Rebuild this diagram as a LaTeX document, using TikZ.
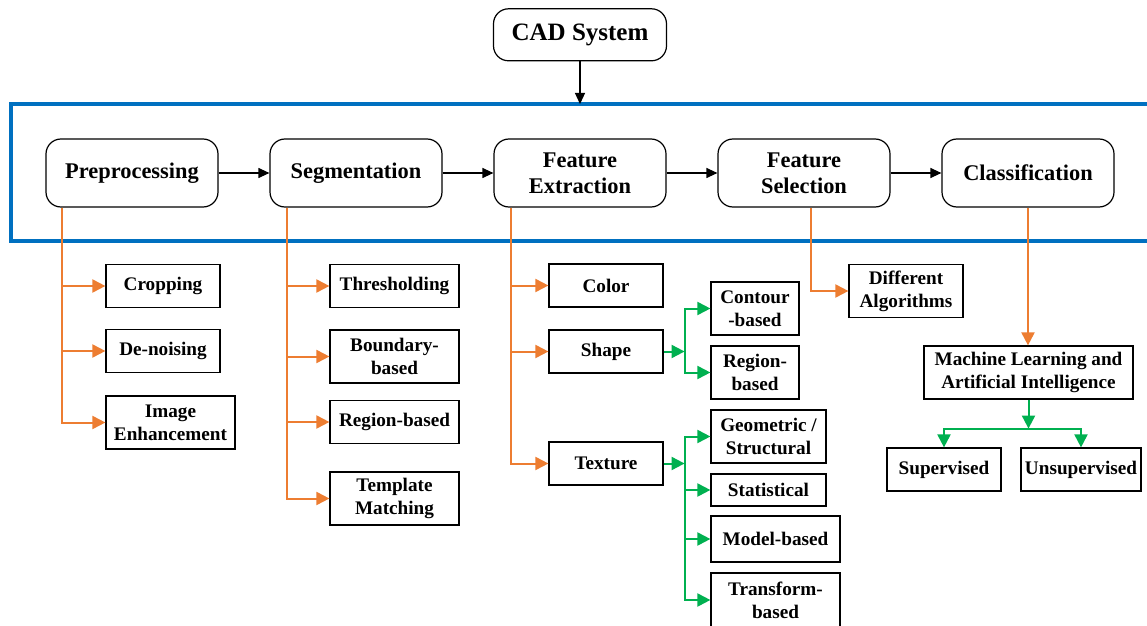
\documentclass[tikz,border=0pt]{standalone}
\usepackage{fontspec}
\setmainfont{Liberation Serif}
\usetikzlibrary{arrows.meta,positioning}
\definecolor{cadblue}{RGB}{0,112,192}
\definecolor{cadorange}{RGB}{237,125,49}
\definecolor{cadgreen}{RGB}{0,176,80}

\begin{document}
\begin{tikzpicture}[x=0.5pt,y=-0.5pt,
    stage/.style={draw, rounded corners=7.5pt, line width=0.6pt, minimum width=86pt,
        minimum height=34pt, align=center, font=\fontsize{11.2}{13}\selectfont\bfseries},
    leaf/.style={draw, line width=0.6pt, minimum width=57pt, minimum height=21.5pt,
        inner sep=1pt, align=center, font=\fontsize{9.6}{11.5}\selectfont\bfseries},
    tall/.style={minimum height=26.5pt},
    flow/.style={-{Triangle[length=5.5pt,width=5pt]}, line width=0.6pt},
    obranch/.style={cadorange, line width=1pt, -{Triangle[length=6.5pt,width=6.5pt]}},
    gbranch/.style={cadgreen, line width=1pt, -{Triangle[length=6.5pt,width=6.5pt]}}
    ]
    \useasboundingbox (0,0) rectangle (1147,626);

    % main stages
    \node[stage] (pre) at (132,173) {Preprocessing};
    \node[stage, right=25.4pt of pre] (seg) {Segmentation};
    \node[stage, right=25.4pt of seg] (fext) {Feature\\Extraction};
    \node[stage, right=25.4pt of fext] (fsel) {Feature\\Selection};
    \node[stage, right=25.4pt of fsel] (cls) {Classification};
    \node[stage, minimum width=86.5pt, minimum height=26pt, font=\fontsize{12.5}{14}\selectfont\bfseries,
        above=38.5pt of fext] (cad) {CAD System};

    \draw[cadblue, line width=1.6pt] (11,104) rectangle (1170,241);
    \coordinate (frametop) at (cad.south |- 0,104);
    \draw[flow] (cad) -- (frametop);
    \draw[flow] (pre) -- (seg);
    \draw[flow] (seg) -- (fext);
    \draw[flow] (fext) -- (fsel);
    \draw[flow] (fsel) -- (cls);

    % preprocessing
    \node[leaf] (crop) at (163,286) {Cropping};
    \node[leaf] (denoise) at (163,351) {De-noising};
    \node[leaf, tall, minimum width=64.5pt] (enh) at (170.5,422.5) {Image\\Enhancement};
    \draw[obranch] ([xshift=8.5pt]pre.south west) |- (crop);
    \draw[obranch] ([xshift=8.5pt]pre.south west) |- (denoise);
    \draw[obranch] ([xshift=8.5pt]pre.south west) |- (enh);

    % segmentation
    \node[leaf, minimum width=64.5pt] (thr) at (394.5,286) {Thresholding};
    \node[leaf, tall, minimum width=64.5pt] (bound) at (394.5,356.5) {Boundary-\\based};
    \node[leaf, minimum width=64.5pt] (regseg) at (394.5,422) {Region-based};
    \node[leaf, tall, minimum width=64.5pt] (templ) at (394.5,498.5) {Template\\Matching};
    \draw[obranch] ([xshift=9pt]seg.south west) |- (thr);
    \draw[obranch] ([xshift=9pt]seg.south west) |- (bound);
    \draw[obranch] ([xshift=9pt]seg.south west) |- (regseg);
    \draw[obranch] ([xshift=9pt]seg.south west) |- (templ);

    % feature extraction
    \node[leaf] (color) at (606,285.5) {Color};
    \node[leaf] (shape) at (606,351.5) {Shape};
    \node[leaf] (texture) at (606,463.5) {Texture};
    \draw[obranch] ([xshift=9pt]fext.south west) |- (color);
    \draw[obranch] ([xshift=9pt]fext.south west) |- (shape);
    \draw[obranch] ([xshift=9pt]fext.south west) |- (texture);

    \node[leaf, tall, minimum width=44pt] (contour) at (755,308.5) {Contour\\-based};
    \node[leaf, tall, minimum width=44pt] (regshape) at (755,372.5) {Region-\\based};
    \coordinate (shapejoin) at ([xshift=10.5pt]shape.east);
    \draw[gbranch] (shape) -- (shapejoin);
    \draw[gbranch] (shapejoin) |- (contour);
    \draw[gbranch] (shapejoin) |- (regshape);

    \node[leaf, tall, minimum width=57.5pt] (geo) at (768.5,436.5) {Geometric /\\Structural};
    \node[leaf, minimum width=57.5pt, minimum height=16pt] (stat) at (768.5,490) {Statistical};
    \node[leaf, minimum width=64.5pt, minimum height=23pt] (model) at (775.5,539) {Model-based};
    \node[leaf, minimum width=64.5pt, minimum height=27pt] (transf) at (775.5,600) {Transform-\\based};
    \coordinate (texjoin) at ([xshift=10.5pt]texture.east);
    \draw[gbranch] (texture) -- (texjoin);
    \draw[gbranch] (texjoin) |- (geo);
    \draw[gbranch] (texjoin) |- (stat);
    \draw[gbranch] (texjoin) |- (model);
    \draw[gbranch] (texjoin) |- (transf);

    % feature selection
    \node[leaf, tall] (algo) at (906,291) {Different\\Algorithms};
    \draw[obranch] ([xshift=3.5pt]fsel.south) |- (algo);

    % classification
    \node[leaf, tall, minimum width=104.5pt] (ml) at (1028.5,372.5) {Machine Learning and\\Artificial Intelligence};
    \draw[obranch] (cls.south) -- (ml.north -| cls.south);
    \node[leaf] (sup) at (944,469.5) {Supervised};
    \node[leaf, minimum width=60pt] (unsup) at (1081,469.5) {Unsupervised};
    \coordinate (mljoin) at ([yshift=-14.5pt]ml.south);
    \draw[gbranch] (ml) -- (mljoin);
    \draw[gbranch] (mljoin) -| (sup);
    \draw[gbranch] (mljoin) -| (unsup);
\end{tikzpicture}
\end{document}
